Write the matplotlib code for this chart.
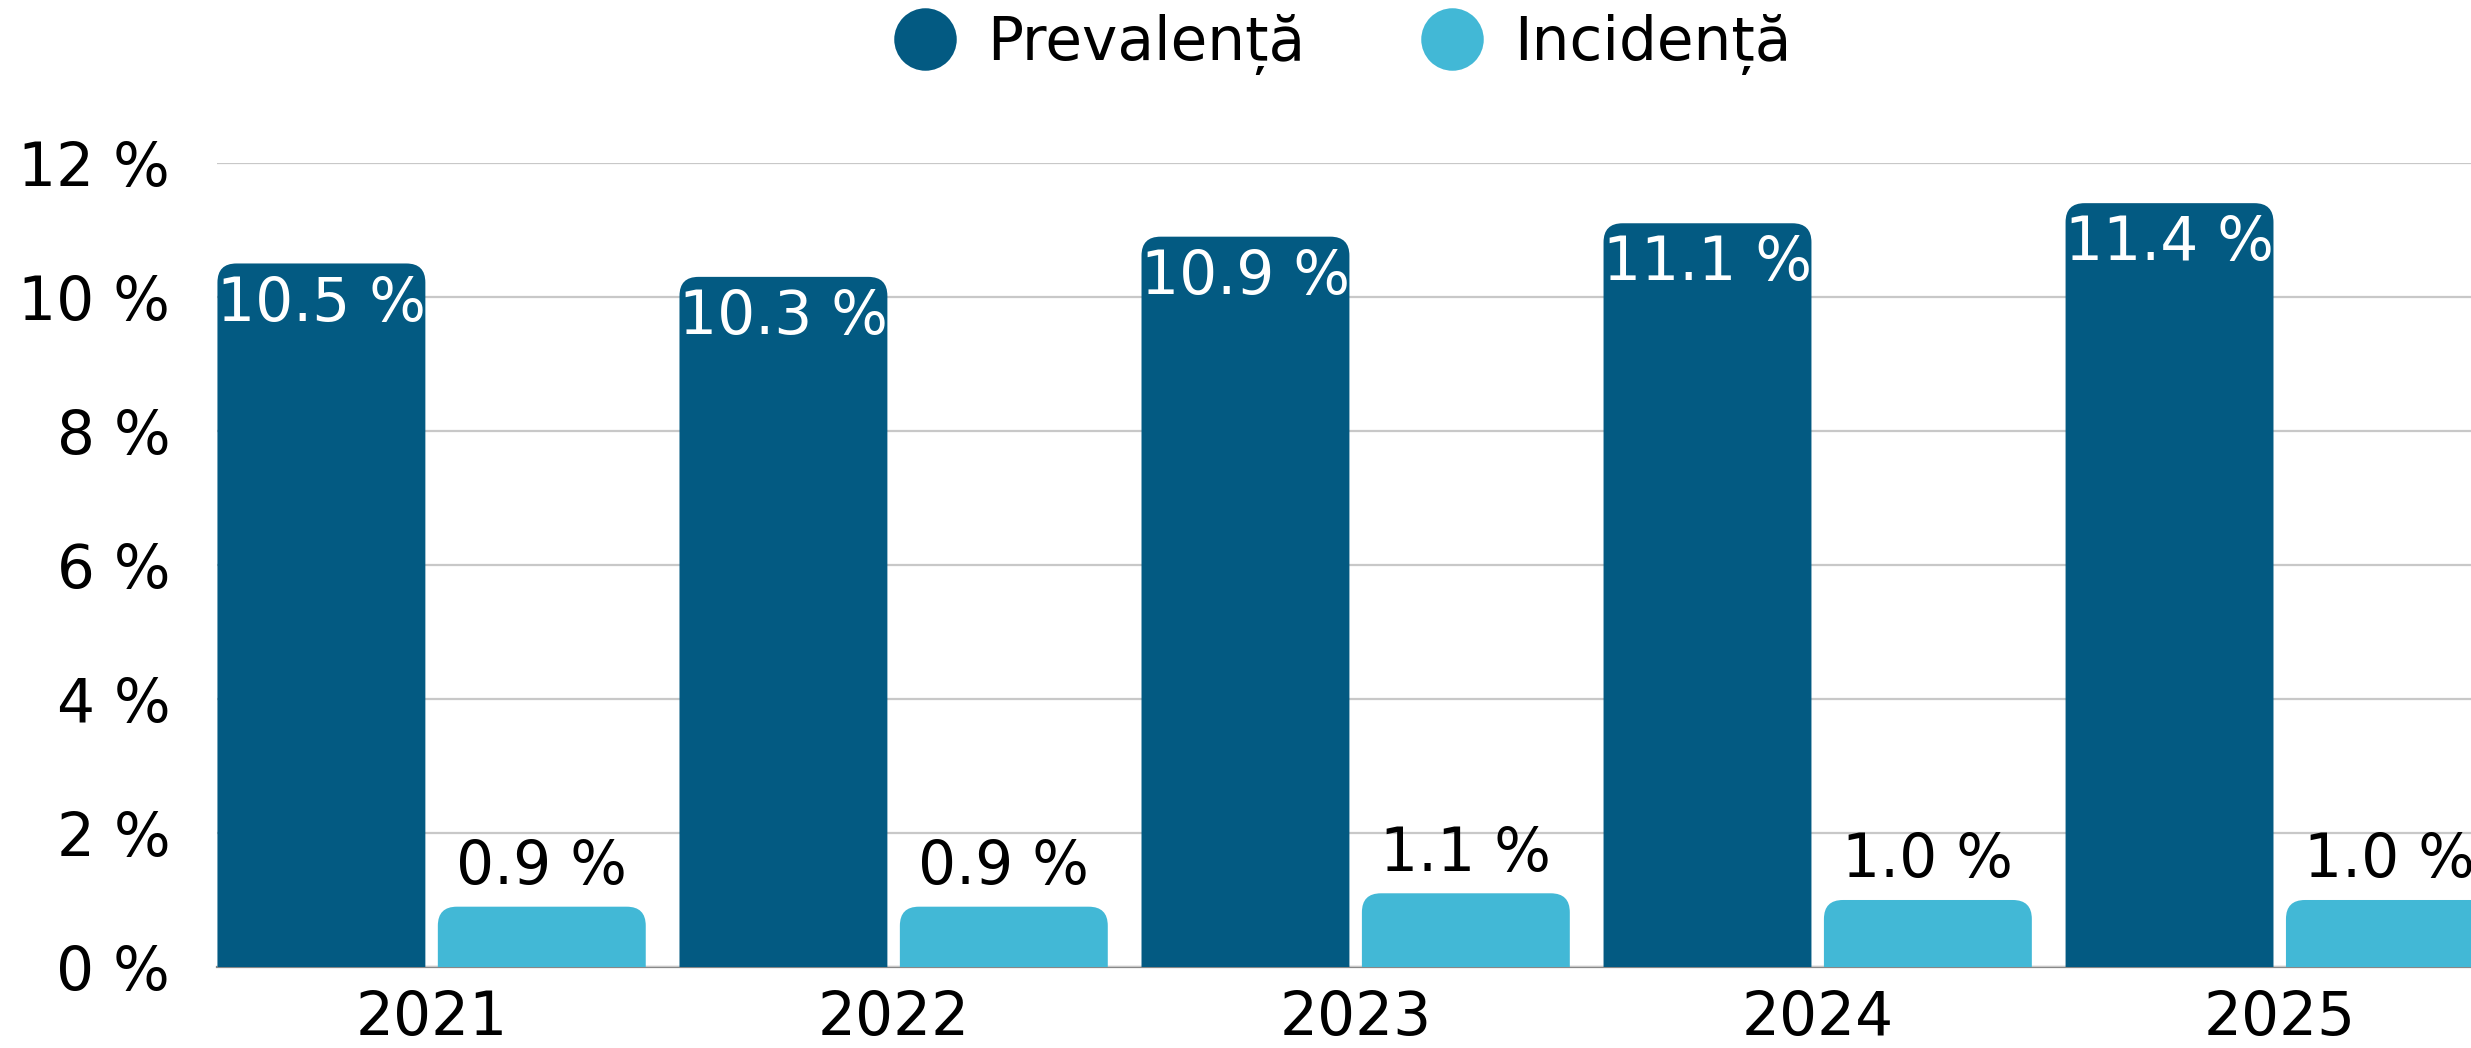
import numpy as np
import matplotlib
matplotlib.use("Agg")
import matplotlib.pyplot as plt
from matplotlib.patches import FancyBboxPatch
from matplotlib.lines import Line2D

years = ["2021", "2022", "2023", "2024", "2025"]
prevalenta = [10.5, 10.3, 10.9, 11.1, 11.4]
incidenta = [0.9, 0.9, 1.1, 1.0, 1.0]
series_names = ["Prevalență", "Incidență"]
yticks = [0, 2, 4, 6, 8, 10, 12]

c_dark = "#035A82"
c_light = "#42B8D6"
fs = 43

plt.rcParams['font.family'] = ['DejaVu Sans']

fig = plt.figure(figsize=(24.71, 10.48), dpi=100)
ax = fig.add_axes([0.088, 0.0773, 0.912, 0.7672])

x = np.arange(len(years))
w = 0.45
gap = 0.0135
b1 = ax.bar(x - gap - w / 2, prevalenta, w, color=c_dark, zorder=3)
b2 = ax.bar(x + gap + w / 2, incidenta, w, color=c_light, zorder=3)

ax.set_xlim(-0.4635, 4.414)
ax.set_ylim(0, 12)

# rounded tops: swap the plain rectangles for rounded boxes
px_x = ax.bbox.width / (4.414 + 0.4635)
px_y = ax.bbox.height / 12.0
r_px = 19
rx = r_px / px_x
ry = r_px / px_y
for bars in (b1, b2):
    for rect in bars:
        rect.set_visible(False)
        p = FancyBboxPatch((rect.get_x(), -ry), rect.get_width(), rect.get_height() + ry,
                           boxstyle="round,pad=0,rounding_size=%f" % rx,
                           mutation_aspect=ry / rx,
                           facecolor=rect.get_facecolor(), edgecolor='none', zorder=3)
        ax.add_patch(p)

for rect, v in zip(b1, prevalenta):
    ax.annotate("%.1f %%" % v, (rect.get_x() + rect.get_width() / 2, v),
                xytext=(0, -8), textcoords='offset points', ha='center', va='top',
                color='white', fontsize=fs, zorder=4)
for rect, v in zip(b2, incidenta):
    ax.annotate("%.1f %%" % v, (rect.get_x() + rect.get_width() / 2, v),
                xytext=(0, 7), textcoords='offset points', ha='center', va='bottom',
                color='black', fontsize=fs, zorder=4)

ax.set_yticks(yticks)
ax.set_yticklabels(["%d %%" % t for t in yticks])
ax.set_xticks(x)
ax.set_xticklabels(years)
ax.tick_params(axis='y', length=0, pad=34, labelsize=fs)
ax.tick_params(axis='x', length=0, pad=16, labelsize=fs)
ax.grid(axis='y', color='#c8c8c8', linewidth=1.6, zorder=0)
for s in ['top', 'right', 'left']:
    ax.spines[s].set_visible(False)
ax.spines['bottom'].set_color('#888888')
ax.spines['bottom'].set_linewidth(1.6)
ax.spines['bottom'].set_zorder(1)

handles = [Line2D([], [], marker='o', linestyle='none', markersize=45,
                  markerfacecolor=c, markeredgecolor='none') for c in (c_dark, c_light)]
fig.legend(handles, series_names, loc='center', bbox_to_anchor=(0.543, 0.958),
           ncol=2, frameon=False, fontsize=fs, handlelength=1.1,
           handletextpad=0.5, columnspacing=1.9)

fig.savefig("out.png", dpi=100)
